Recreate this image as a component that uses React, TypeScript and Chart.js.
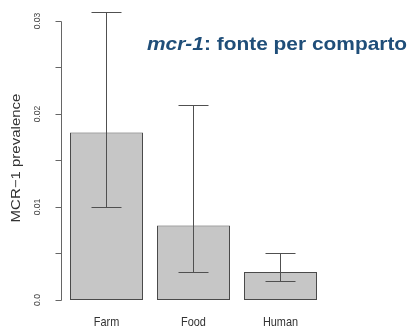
import React, { useEffect, useRef } from "react";
import { Chart, registerables } from "chart.js";

Chart.register(...registerables);

const categories = ["Farm", "Food", "Human"];
const prevalence = [0.018, 0.008, 0.003];
const lowerCI = [0.01, 0.003, 0.002];
const upperCI = [0.031, 0.021, 0.005];
const tickValues = [0, 0.005, 0.01, 0.015, 0.02, 0.025, 0.03];
const tickLabels: Record<string, string> = { "0": "0.0", "0.01": "0.01", "0.02": "0.02", "0.03": "0.03" };
const yTitle = "MCR\u22121 prevalence";
const titleItalic = "mcr-1";
const titleRest = ": fonte per comparto";

const rPlugin = {
  id: "rstyle",
  afterDatasetsDraw(chart: any) {
    const ctx = chart.ctx as CanvasRenderingContext2D;
    const y = chart.scales.y;
    const x = chart.scales.x;
    const meta = chart.getDatasetMeta(0);
    ctx.save();
    // error bars
    ctx.strokeStyle = "#505050";
    ctx.lineWidth = 1;
    meta.data.forEach((bar: any, i: number) => {
      const cx = Math.floor(bar.x) + 0.5;
      const yl = Math.round(y.getPixelForValue(lowerCI[i])) + 0.5;
      const yu = Math.round(y.getPixelForValue(upperCI[i])) + 0.5;
      ctx.beginPath();
      ctx.moveTo(cx, yl);
      ctx.lineTo(cx, yu);
      ctx.moveTo(cx - 15, yl);
      ctx.lineTo(cx + 15, yl);
      ctx.moveTo(cx - 15, yu);
      ctx.lineTo(cx + 15, yu);
      ctx.stroke();
    });
    // y axis
    const ax = 61.5;
    ctx.strokeStyle = "#666666";
    ctx.beginPath();
    ctx.moveTo(ax, Math.round(y.getPixelForValue(0)) + 0.5);
    ctx.lineTo(ax, Math.round(y.getPixelForValue(0.03)) + 0.5);
    tickValues.forEach((v) => {
      const py = Math.round(y.getPixelForValue(v)) + 0.5;
      ctx.moveTo(ax, py);
      ctx.lineTo(ax - 6, py);
    });
    ctx.stroke();
    // tick labels
    ctx.fillStyle = "#444444";
    ctx.textAlign = "center";
    ctx.textBaseline = "middle";
    ctx.font = "8.5px 'Liberation Sans', Arial, sans-serif";
    tickValues.forEach((v) => {
      const lbl = tickLabels[String(v)];
      if (!lbl) return;
      const py = y.getPixelForValue(v);
      ctx.save();
      ctx.translate(37, py);
      ctx.rotate(-Math.PI / 2);
      ctx.scale(1, 1.1);
      ctx.fillText(lbl, 0, 0);
      ctx.restore();
    });
    // y title
    ctx.save();
    ctx.font = "15px 'Liberation Sans', Arial, sans-serif";
    ctx.fillStyle = "#333333";
    ctx.translate(17, 158);
    ctx.rotate(-Math.PI / 2);
    ctx.scale(1, 0.82);
    ctx.fillText(yTitle, 0, 0);
    ctx.restore();
    // category labels
    ctx.font = "13px 'Liberation Sans', Arial, sans-serif";
    ctx.fillStyle = "#333333";
    categories.forEach((c, i) => {
      const px = x.getPixelForValue(i);
      ctx.save();
      ctx.translate(px, 322.5);
      ctx.scale(0.84, 1);
      ctx.fillText(c, 0, 0);
      ctx.restore();
    });
    // title
    ctx.save();
    ctx.fillStyle = "#1F4E79";
    ctx.textAlign = "left";
    ctx.textBaseline = "alphabetic";
    ctx.translate(147, 50);
    ctx.scale(1.1, 1);
    ctx.font = "italic bold 19px 'Liberation Sans', Arial, sans-serif";
    ctx.fillText(titleItalic, 0, 0);
    const w = ctx.measureText(titleItalic).width;
    ctx.font = "bold 19px 'Liberation Sans', Arial, sans-serif";
    ctx.fillText(titleRest, w, 0);
    ctx.restore();
    ctx.restore();
  },
};

export default function App() {
  const ref = useRef<HTMLCanvasElement>(null);
  useEffect(() => {
    document.body.style.margin = "0";
    const chart = new Chart(ref.current!, {
      type: "bar",
      data: {
        labels: categories,
        datasets: [
          {
            data: prevalence,
            backgroundColor: "#C6C6C6",
            borderColor: "#4A4A4A",
            borderWidth: 1,
            borderSkipped: false,
            barPercentage: 73 / 87,
            categoryPercentage: 1,
          },
        ],
      },
      options: {
        animation: false,
        responsive: false,
        devicePixelRatio: 1,
        layout: { padding: { left: 63, right: 90, top: 3, bottom: 30 } },
        plugins: { legend: { display: false }, tooltip: { enabled: false } },
        scales: {
          x: { display: false },
          y: { display: false, min: 0, max: 0.031935 },
        },
      },
      plugins: [rPlugin],
    });
    return () => chart.destroy();
  }, []);
  return (
    <div style={{ width: 414, height: 330, background: "#fff" }}>
      <canvas ref={ref} width={414} height={330} />
    </div>
  );
}
